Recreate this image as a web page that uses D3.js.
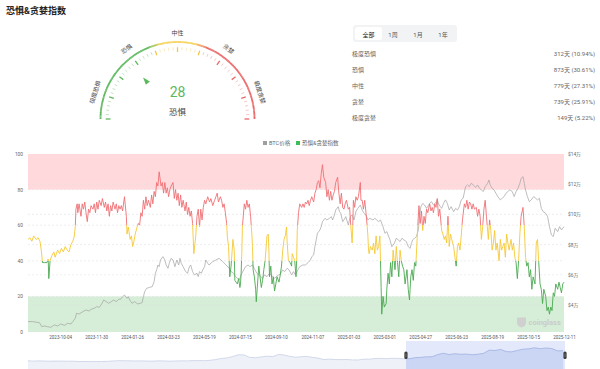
<!DOCTYPE html>
<html><head><meta charset="utf-8">
<script src="https://cdn.jsdelivr.net/npm/d3@7"></script>
<style>html,body{margin:0;padding:0;background:#fff;}svg{display:block;}</style>
</head><body><svg id="c" width="600" height="369"></svg>
<script>
// ---------------- DATA ----------------
const titleText = "恐惧&贪婪指数";
const startDate = "2023-08-14";
const endDate = "2025-12-11";
// [day offset from startDate, fear & greed value]
const fgPoints = [[0,52],[3,53],[6,51],[9,54],[13,52],[16,53],[19,51],[21,46],[23,39],[26,39],[30,39],[32,41],[33,30],[35,40],[38,43],[41,45],[43,42],[47,46],[50,44],[53,47],[56,45],[59,48],[62,46],[65,45],[68,49],[71,51],[73,53],[75,59],[76,69],[78,72],[79,67],[81,72],[84,65],[86,72],[88,69],[90,73],[92,67],[94,62],[96,69],[98,67],[100,71],[103,69],[105,72],[107,67],[109,73],[111,69],[113,74],[116,71],[118,75],[121,70],[123,73],[125,68],[127,72],[129,65],[131,71],[133,68],[135,73],[138,69],[140,72],[142,67],[144,71],[146,69],[148,71],[150,68],[153,76],[156,65],[157,55],[159,59],[162,52],[164,54],[166,48],[168,51],[170,55],[173,59],[175,61],[177,60],[179,67],[181,65],[183,74],[185,69],[187,76],[189,71],[191,74],[194,70],[196,77],[198,72],[200,79],[202,76],[204,84],[206,82],[208,90],[211,82],[213,84],[215,78],[217,84],[219,78],[221,81],[223,76],[225,80],[227,82],[230,84],[232,75],[234,80],[236,74],[238,78],[240,71],[242,77],[244,70],[246,74],[249,68],[251,73],[253,66],[255,70],[257,65],[259,68],[261,61],[263,44],[266,54],[268,65],[270,69],[272,59],[274,69],[276,63],[278,70],[280,74],[282,72],[285,76],
[288,73],[290,75],[293,71],[296,74],[298,76],[300,78],[302,73],[305,76],[307,74],[309,70],[311,72],[313,67],[315,61],[316,54],[318,48],[319,40],[320,31],[322,37],[325,52],[327,46],[328,29],[330,28],[332,27],[334,30],[336,25],[337,27],[338,33],[339,44],[340,59],[343,72],[345,69],[347,74],[349,70],[351,72],[353,65],[355,55],[356,48],[357,35],[359,31],[361,24],[362,17],[364,27],[366,37],[368,31],[370,25],[372,29],[374,35],[376,40],[379,54],[381,55],[382,46],[383,31],[385,37],[387,27],[389,31],[391,23],[393,27],[395,31],[398,28],[400,32],[402,37],[404,46],[406,52],[408,54],[410,59],[411,50],[413,40],[416,39],[418,37],[419,44],[421,42],[423,40],[425,31],[426,40],[427,57],[429,67],[431,72],[434,70],[436,72],[438,70],[440,73],[442,72],[444,74],[446,71],[448,74],[450,76],[453,73],[455,78],[457,80],[459,84],[461,85],[463,81],[465,89],[467,94],[469,87],[472,84],[474,76],[476,80],[478,74],[480,79],[482,74],[484,77],[486,79],[488,84],[491,87],[493,78],[495,72],[497,78],[499,70],[501,69],[503,72],[505,74],[508,69],[510,70],[512,59],[514,50],[515,59],[516,74],[518,70],[520,76],[522,74],[524,76],[527,84],[528,74],[530,74],[532,69],[534,74],[536,67],[538,59],[539,54],[540,46],[541,44],[543,48],[546,46],[548,50],[550,44],[552,54],[554,46],[556,48],[558,54],[559,40],[560,25],[561,10],[563,20],[565,14],
[568,16],[569,24],[571,33],[573,27],[575,39],[577,31],[579,46],[582,35],[584,48],[586,39],[588,31],[590,46],[592,40],[594,37],[596,35],[598,27],[601,35],[603,24],[605,18],[607,31],[609,35],[611,29],[613,39],[615,37],[618,59],[620,71],[622,61],[624,68],[626,57],[628,65],[630,61],[632,69],[634,67],[637,72],[639,68],[641,70],[643,67],[645,72],[647,70],[649,75],[651,65],[653,69],[656,57],[658,55],[660,52],[662,54],[664,50],[666,65],[668,48],[670,55],[672,52],[675,48],[677,42],[679,37],[681,48],[683,50],[685,46],[687,54],[689,63],[692,72],[694,70],[696,74],[698,69],[700,73],[702,72],[704,69],[706,72],[708,69],[711,70],[713,65],[715,69],[717,65],[719,52],[721,59],[723,69],[725,74],[727,65],[730,52],[732,63],[734,57],[736,46],[738,50],[740,57],[742,46],[744,50],[747,40],[749,52],[751,46],[753,48],[755,50],[757,42],[759,55],[761,50],[763,46],[766,52],[768,46],[770,50],[772,42],[774,39],[776,30],[778,40],[780,55],[782,65],[785,70],[787,59],[789,42],[791,37],[793,39],[795,31],[797,35],[799,24],[801,31],[804,27],[806,50],[808,52],[810,39],[812,27],[814,24],[816,16],[818,24],[821,20],[823,12],[825,14],[827,10],[829,14],[831,12],[833,22],[835,20],[837,27],[840,24],[842,28],[844,25],[846,22],[848,27],[850,28]];
// [day offset from startDate, BTC price USD]
const btcPoints = [[0,29000],[7,29000],[18,28300],[22,25600],[26,26100],[31,25600],[36,25200],[42,26800],[47,26100],[52,27400],[58,26500],[63,27900],[68,27400],[71,29000],[75,31200],[77,34500],[81,34000],[87,35600],[92,36700],[97,36000],[100,37100],[105,37800],[109,38900],[113,38400],[117,40700],[120,43300],[124,42200],[128,41100],[132,42200],[136,43300],[140,42200],[144,43800],[147,43800],[150,45500],[153,46600],[157,44400],[159,45500],[162,42900],[165,41100],[169,42200],[174,40700],[178,41100],[181,41600],[183,45500],[185,48800],[188,51000],[193,51700],[197,52100],[200,55500],[202,61000],[204,63200],[206,66500],[208,65400],[210,69800],[214,72000],[217,69800],[219,66500],[222,64300],[224,67600],[227,70900],[230,69800],[233,65400],[236,69800],[239,66500],[241,70900],[243,67600],[246,65400],[250,62100],[253,61000],[256,65400],[258,66500],[261,62100],[264,59900],[268,61000],[270,58800],[272,62100],[275,61000],[277,63200],[280,65400],[282,69800],[285,67600],
[287,66500],[293,68700],[298,69800],[303,70900],[309,68700],[314,66500],[319,64300],[322,62100],[326,61000],[329,58800],[332,57700],[335,56600],[338,59900],[342,63200],[345,65400],[349,66500],[352,65400],[356,66500],[360,63200],[363,61000],[366,59900],[369,58800],[372,57700],[375,59900],[379,58800],[383,61000],[387,59200],[391,57700],[395,59200],[400,60500],[404,63200],[407,62100],[411,64300],[414,63200],[418,59900],[421,62100],[424,59900],[428,63200],[431,65400],[436,66500],[440,66500],[444,68000],[448,69800],[450,72000],[453,73100],[455,78600],[457,83100],[459,87500],[461,88600],[463,89700],[465,91900],[467,95200],[471,97400],[474,96300],[478,97400],[481,98500],[483,96300],[486,99600],[488,102900],[492,105100],[494,101800],[496,100700],[499,95200],[501,96300],[504,98500],[508,93000],[511,98500],[514,99600],[517,96300],[520,101800],[523,104000],[527,106200],[530,102900],[533,100700],[536,99600],[539,96300],[542,97400],[547,96300],[550,97400],[553,96300],[556,95200],[559,96300],[563,91900],[566,87500],[569,88600],
[571,86400],[574,83100],[577,78600],[581,80800],[584,84200],[587,83100],[590,82000],[593,84200],[596,83100],[600,82000],[603,78600],[606,77500],[608,80800],[610,83100],[613,84200],[616,85300],[619,89700],[621,98500],[623,105100],[626,107300],[629,106200],[632,104000],[637,107300],[640,108400],[643,106200],[646,107300],[649,109600],[652,106200],[656,104000],[659,107300],[662,109600],[665,107300],[668,102900],[671,105100],[675,101800],[678,104000],[681,102900],[684,105100],[687,109600],[690,110700],[694,118400],[697,119500],[700,118400],[703,120600],[706,119500],[710,117900],[713,119500],[716,117300],[719,116200],[722,115100],[725,118400],[729,120600],[731,122800],[733,119500],[736,117300],[739,116200],[742,114000],[745,111800],[749,109600],[752,110700],[755,111800],[758,114000],[761,115100],[764,116200],[768,115100],[771,111800],[774,115100],[777,117300],[780,120600],[782,123900],[785,125000],[787,120600],[789,116200],[792,111800],[795,108400],[798,109600],[802,111800],[805,110700],[808,109600],[811,110700],[814,104000],[817,101800],[821,100700],[824,98500],[827,91900],[830,86400],[833,85300],[836,90800],[840,88600],[843,91900],[846,89700],[850,91900]];
const xTickLabels = ["2023-10-04","2023-11-30","2024-01-26","2024-03-23","2024-05-19","2024-07-15","2024-09-10","2024-11-07","2025-01-03","2025-03-01","2025-04-27","2025-06-23","2025-08-19","2025-10-15","2025-12-11"];
const leftTicks = [0,20,40,60,80,100];
const rightTicks = [40000,60000,80000,100000,120000,140000];
const rightTickLabels = ["$4万","$6万","$8万","$10万","$12万","$14万"];
const legendNames = ["BTC价格","恐惧&贪婪指数"];
// overview (slider) – monthly BTC price from 2018-02
const overviewStart = "2018-02-01";
const overviewValues = [10300,7000,9200,7500,6400,7700,7000,6600,6300,4000,3700,
 3500,3800,4100,5300,8500,10800,10100,9600,8300,9200,7600,7200,
 9300,8600,6400,8600,9500,9100,11300,11700,10800,13800,19700,29000,
 33100,45200,58800,57700,37300,35000,41500,47100,43800,61300,57000,46300,
 38500,43200,45500,37700,31800,19900,23300,20000,19400,20500,17200,16500,
 23100,23100,28500,29300,27200,30500,29200,26000,27000,34700,37700,42300,
 42600,61200,71300,60600,67500,62700,64600,59000,63300,70200,96400,93400,
 102400,84400,82500,94200,104600,107100,115800,108200,114000,109500,90400,92000];
// gauge
const gaugeValue = 28;
const gaugeLabel = "恐惧";
const zoneNames = ["极度恐惧","恐惧","中性","贪婪","极度贪婪"];
const zoneCenters = [10,30,50,70,90];
// stats
const tabs = ["全部","1周","1月","1年"];
const statNames = ["极度恐惧","恐惧","中性","贪婪","极度贪婪"];
const statDays = [312,873,779,739,149];
const statPct = ["10.94%","30.61%","27.31%","25.91%","5.22%"];

// ---------------- DRAW ----------------
const FONT = 'Roboto,"Noto Sans CJK SC",sans-serif';
const RED="#ef6f73", YEL="#f6c834", GRN="#49a84f";
const svg = d3.select("#c").attr("font-family",FONT);
svg.append("rect").attr("width",600).attr("height",369).attr("fill","#fff");

svg.append("text").attr("x",6).attr("y",14).attr("font-size",9).attr("font-weight",700)
  .attr("fill","#222").text(titleText);

// ---- gauge ----
const gcx=177.5, gcy=119, gr=77;
const G = svg.append("g").attr("transform",`translate(${gcx},${gcy})`);
const arcColor = d3.scaleLinear().domain([0,37,43,57,63,100]).range(["#5cb85c","#5cb85c","#f7d35a","#f7d35a","#ec6767","#ec6767"]);
const arcGen = d3.arc().innerRadius(gr-0.9).outerRadius(gr+0.9);
const aAng = v => -Math.PI/2 + v/100*Math.PI;
d3.range(0,100,0.5).forEach(v=>{
  G.append("path").attr("d",arcGen({startAngle:aAng(v),endAngle:aAng(v+0.55)})).attr("fill",arcColor(v+0.25));
});
const zoneColor = v => v<40? "#5cb85c" : (v<=60? "#f2c84b" : "#ec6767");
const pt = (v,r) => { const t=Math.PI*(1-v/100); return [r*Math.cos(t), -r*Math.sin(t)]; };
d3.range(0,101,2).forEach(v=>{
  const major = v%10===0;
  const [x1,y1]=pt(v, major?67:68.8), [x2,y2]=pt(v, 71.8);
  G.append("line").attr("x1",x1).attr("y1",y1).attr("x2",x2).attr("y2",y2)
    .attr("stroke",zoneColor(v)).attr("stroke-width",major?1.3:0.8).attr("opacity",major?1:0.45);
});
zoneNames.forEach((n,i)=>{
  const v=zoneCenters[i]; const [x,y]=pt(v,87);
  G.append("text").attr("transform",`translate(${x},${y}) rotate(${-90+1.8*v})`)
   .attr("text-anchor","middle").attr("dominant-baseline","central")
   .attr("font-size",6).attr("fill","#444").text(n);
});
{
  const v=gaugeValue, t=Math.PI*(1-v/100);
  const tip=pt(v,54), b=pt(v,46.5);
  const px=-Math.sin(t)*2.6, py=-Math.cos(t)*2.6;
  G.append("path").attr("d",`M${tip[0]},${tip[1]}L${b[0]+px},${b[1]+py}L${b[0]-px},${b[1]-py}Z`).attr("fill","#5cb85c");
}
G.append("text").attr("x",0).attr("y",-22).attr("text-anchor","middle").attr("font-size",14)
  .attr("fill","#5cb85c").text(gaugeValue);
G.append("text").attr("x",0).attr("y",-4.5).attr("text-anchor","middle").attr("font-size",8.5)
  .attr("fill","#444").text(gaugeLabel);

// ---- stats panel ----
svg.append("rect").attr("x",353).attr("y",25).attr("width",104).attr("height",17).attr("rx",3).attr("fill","#f2f3f5");
svg.append("rect").attr("x",355).attr("y",27).attr("width",27).attr("height",13).attr("rx",2.5).attr("fill","#fff");
const tabX=[368.5,393,418,443];
tabs.forEach((t,i)=>svg.append("text").attr("x",tabX[i]).attr("y",34).attr("text-anchor","middle")
  .attr("dominant-baseline","central").attr("font-size",6).attr("fill",i===0?"#222":"#555").text(t));
statNames.forEach((n,i)=>{
  const y=53+i*16;
  svg.append("text").attr("x",352).attr("y",y).attr("dominant-baseline","central").attr("font-size",6).attr("fill","#666").text(n);
  svg.append("text").attr("x",595).attr("y",y).attr("text-anchor","end").attr("dominant-baseline","central").attr("font-size",6).attr("fill","#666").text(`${statDays[i]}天 (${statPct[i]})`);
});

// ---- legend ----
svg.append("rect").attr("x",263).attr("y",141).attr("width",4).attr("height",4).attr("fill","#9e9e9e");
svg.append("text").attr("x",269).attr("y",143.2).attr("dominant-baseline","central").attr("font-size",5.5).attr("fill","#666").text(legendNames[0]);
svg.append("rect").attr("x",296).attr("y",141).attr("width",4).attr("height",4).attr("fill","#3dbd5a");
svg.append("text").attr("x",302).attr("y",143.2).attr("dominant-baseline","central").attr("font-size",5.5).attr("fill","#666").text(legendNames[1]);

// ---- main chart ----
const parse = d3.utcParse("%Y-%m-%d");
const d0 = parse(startDate), d1 = parse(endDate);
const L=28, R=564, T=154, B=332;
const x = d3.scaleUtc().domain([d0,d1]).range([L,R]);
const xd = day => x(d3.utcDay.offset(d0, day));
const yL = d3.scaleLinear().domain([0,100]).range([B,T]);
const yR = d3.scaleLinear().domain([22100,140000]).range([B,T]);

svg.append("rect").attr("x",L).attr("y",yL(100)).attr("width",R-L).attr("height",yL(80)-yL(100)).attr("fill","#ffd9dc");
svg.append("rect").attr("x",L).attr("y",yL(20)).attr("width",R-L).attr("height",yL(0)-yL(20)).attr("fill","#d6eed7");

const grid = svg.append("g").attr("stroke","#e3e3e3").attr("stroke-width",0.6).attr("stroke-dasharray","2,2");
[20,40,60,80].forEach(v=>grid.append("line").attr("x1",L).attr("x2",R).attr("y1",yL(v)).attr("y2",yL(v)));
rightTicks.slice(0,5).forEach(v=>grid.append("line").attr("x1",L).attr("x2",R).attr("y1",yR(v)).attr("y2",yR(v)));

const axL = d3.axisLeft(yL).tickValues(leftTicks).tickSize(0).tickPadding(0);
const gL = svg.append("g").attr("transform",`translate(23,0)`).call(axL);
gL.select(".domain").remove();
gL.selectAll("text").attr("font-size",4.8).attr("fill","#666").attr("font-family",FONT);

const axR = d3.axisRight(yR).tickValues(rightTicks).tickFormat((d,i)=>rightTickLabels[i]).tickSize(0).tickPadding(0);
const gR = svg.append("g").attr("transform",`translate(568,0)`).call(axR);
gR.select(".domain").remove();
gR.selectAll("text").attr("font-size",4.8).attr("fill","#666").attr("font-family",FONT);

const axB = d3.axisBottom(x).tickValues(xTickLabels.map(parse)).tickFormat((d,i)=>xTickLabels[i]).tickSize(0).tickPadding(0);
const gB = svg.append("g").attr("transform",`translate(0,335.5)`).call(axB);
gB.select(".domain").remove();
gB.selectAll("text").attr("font-size",4.5).attr("fill","#555").attr("font-family",FONT);

// watermark
svg.append("path").attr("d","M517,317.5 h9 v4.5 q0,4.5 -4.5,5.5 q-4.5,-1 -4.5,-5.5 z").attr("fill","#d0d0d0");
svg.append("text").attr("x",528.5).attr("y",325).attr("font-size",7.5).attr("font-weight",700).attr("fill","#cbcbcb").text("coinglass");

// BTC line
svg.append("path").datum(btcPoints)
  .attr("d",d3.line().x(d=>xd(d[0])).y(d=>yR(d[1])))
  .attr("fill","none").attr("stroke","#a2a2a2").attr("stroke-width",0.7);

// F&G line with color pieces
const defs = svg.append("defs");
const gr1 = defs.append("linearGradient").attr("id","fgGrad").attr("gradientUnits","userSpaceOnUse")
  .attr("x1",0).attr("x2",0).attr("y1",yL(100)).attr("y2",yL(0));
[[0,RED],[0.4,RED],[0.4,YEL],[0.6,YEL],[0.6,GRN],[1,GRN]].forEach(s=>gr1.append("stop").attr("offset",s[0]).attr("stop-color",s[1]));
svg.append("path").datum(fgPoints)
  .attr("d",d3.line().x(d=>xd(d[0])).y(d=>yL(d[1])))
  .attr("fill","none").attr("stroke","url(#fgGrad)").attr("stroke-width",0.9).attr("stroke-linejoin","round");

// ---- slider ----
const o0 = parse(overviewStart);
const xs = d3.scaleUtc().domain([o0,d1]).range([L,565]);
const ys = d3.scaleLinear().domain([0,130000]).range([362,346]);
const SB=375, ST=341;
const ov = overviewValues.map((v,i)=>[d3.utcMonth.offset(o0,i),v]);
const area = d3.area().x(d=>xs(d[0])).y0(SB).y1(d=>ys(d[1]));
const line = d3.line().x(d=>xs(d[0])).y(d=>ys(d[1]));
svg.append("path").datum(ov).attr("d",area).attr("fill","#eef1f8");
svg.append("path").datum(ov).attr("d",line).attr("fill","none").attr("stroke","#c3cbe2").attr("stroke-width",0.7);
const sx0 = xs(d0), sx1 = xs(d1);
defs.append("clipPath").attr("id","selClip").append("rect").attr("x",sx0).attr("y",ST).attr("width",sx1-sx0).attr("height",SB-ST);
svg.append("rect").attr("x",sx0).attr("y",ST).attr("width",sx1-sx0).attr("height",SB-ST).attr("fill","#e3e9fb");
const selG = svg.append("g").attr("clip-path","url(#selClip)");
selG.append("path").datum(ov).attr("d",area).attr("fill","#cbd6f5");
selG.append("path").datum(ov).attr("d",line).attr("fill","none").attr("stroke","#98a9dd").attr("stroke-width",0.7);
[sx0,sx1].forEach(hx=>{
  svg.append("rect").attr("x",hx-1.6).attr("y",351.5).attr("width",3.2).attr("height",7.5).attr("rx",1.5).attr("fill","#3b3b3b");
  svg.append("line").attr("x1",hx).attr("x2",hx).attr("y1",353.5).attr("y2",357).attr("stroke","#bbb").attr("stroke-width",0.4);
});
</script></body></html>
